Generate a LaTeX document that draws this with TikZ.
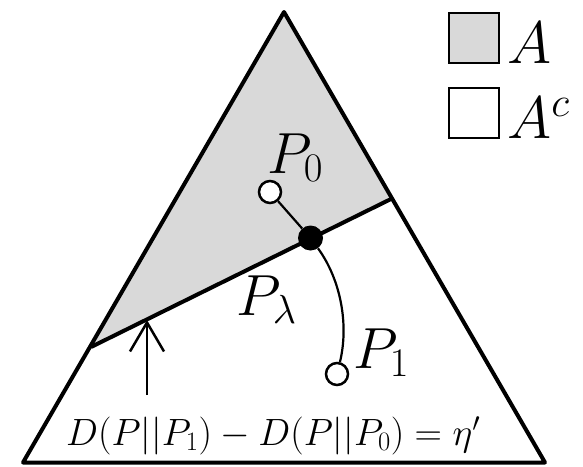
\documentclass[tikz,border=0pt]{standalone}
\usepackage{fix-cm}
\usetikzlibrary{arrows.meta}
\definecolor{setgray}{gray}{0.85}
\tikzset{
  thickline/.style={line width=4pt, line join=round},
  thinline/.style={line width=2.2pt},
  opencirc/.style={circle, draw, fill=white, line width=2.5pt, minimum size=22pt, inner sep=0pt},
  blackdot/.style={circle, fill=black, minimum size=25pt, inner sep=0pt},
  legbox/.style={draw, line width=2.5pt, minimum size=50pt, inner sep=0pt},
  bigmath/.style={inner sep=0pt, font=\fontsize{58}{68}\selectfont},
  legmath/.style={inner sep=0pt, font=\fontsize{60}{72}\selectfont},
  eqmath/.style={inner sep=0pt, font=\fontsize{38}{46}\selectfont},
}
\begin{document}
\begin{tikzpicture}[x=1pt,y=-1pt]
\useasboundingbox (0,0) rectangle (583,466);
% vertices
\coordinate (top) at (284,12);
\coordinate (bl) at (23,462.5);
\coordinate (br) at (545,462.5);
\coordinate (sl) at (91,347);
\coordinate (sr) at (391,199);
% shaded set A
\fill[setgray] (top) -- (sl) -- (sr) -- cycle;
% triangle and boundary
\draw[thickline] (top) -- (bl) -- (br) -- cycle;
\draw[thickline] (sl) -- (sr);
% points
\node[opencirc] (p0) at (270,192) {};
\node[blackdot] (pl) at (310.5,238) {};
\node[opencirc] (p1) at (337,374) {};
\draw[thinline] (p0) -- (pl);
\draw[thinline] (pl) .. controls (341,280) and (349,325) .. (p1);
% labels
\node[bigmath, anchor=base west] (lp0) at (267,173) {$P_0$};
\node[bigmath, anchor=base west] (lpl) at (236,315) {$P_\lambda$};
\node[bigmath, anchor=base west] (lp1) at (353,368) {$P_1$};
% arrow to the boundary
\coordinate (abase) at (147,395);
\coordinate (atip) at (147,320);
\draw[line width=2.5pt, -{Straight Barb[length=29pt, width=34pt, line width=2.5pt]}] (abase) -- (atip);
\node[eqmath, anchor=base west] (eq) at (66,445) {$D(P||P_1)-D(P||P_0)=\eta'$};
% legend
\node[legbox, fill=setgray] (boxa) at (474,38) {};
\node[legbox, fill=white] (boxc) at (474,113) {};
\node[legmath, anchor=base west] (la) at (507,63) {$A$};
\node[legmath, anchor=base west] (lc) at (507,138) {$A^c$};
\end{tikzpicture}
\end{document}
